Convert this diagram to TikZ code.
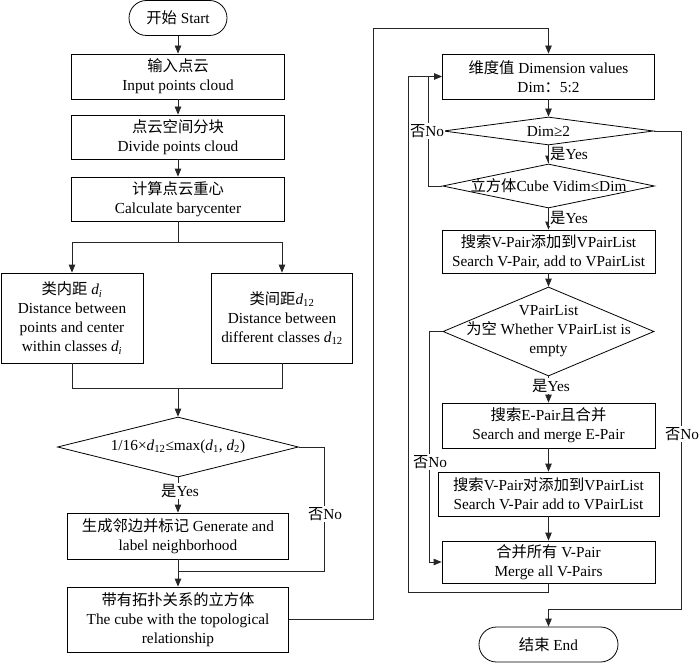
\documentclass[tikz,border=0pt]{standalone}
\usepackage{fontspec}
\setmainfont{Liberation Serif}
\newfontfamily\cjk{Noto Sans CJK SC}
\newcommand{\zh}[1]{{\cjk #1}}
\newcommand{\dv}[1]{\textit{d}\textsubscript{#1}}
\usetikzlibrary{shapes.geometric,shapes.misc,arrows.meta}
\tikzset{
  every node/.style={font=\fontsize{15.3}{19}\selectfont},
  ln/.style={line width=0.8pt, draw=black!85},
  box/.style={draw, line width=0.8pt, align=center, inner sep=1pt},
  term/.style={draw, line width=0.8pt, rounded rectangle, inner sep=1pt, align=center},
  dia/.style={draw, line width=0.8pt, diamond, inner sep=0pt},
  arr/.style={ln, -{Triangle[length=8pt,width=6.5pt]}},
  lab/.style={fill=white, inner sep=1pt},
  dtext/.style={align=center, inner sep=0pt}
}
\begin{document}
\begin{tikzpicture}[x=1pt,y=-1pt]
\useasboundingbox (0,0) rectangle (700,663);
% left column
\node[term, minimum width=100pt, minimum height=35pt] (start) at (178,18) {\zh{开始} Start};
\node[box, minimum width=213pt, minimum height=45pt] (in) at (178,76.5) {\zh{输入点云}\\Input points cloud};
\node[box, minimum width=213pt, minimum height=44pt] (div) at (178,137) {\zh{点云空间分块}\\Divide points cloud};
\node[box, minimum width=213pt, minimum height=44pt] (bary) at (178,199) {\zh{计算点云重心}\\Calculate barycenter};
\node[box, minimum width=142pt, minimum height=90pt] (intra) at (72,318) {\zh{类内距} \dv{\textit{i}}\\Distance between\\points and center\\within classes \dv{\textit{i}}};
\node[box, minimum width=141pt, minimum height=90pt] (inter) at (282,318) {\zh{类间距}\dv{12}\\Distance between\\different classes \dv{12}};
\node[dia, minimum width=241pt, minimum height=60pt] (d1) at (178,447) {};
\node[dtext] (d1t) at (178,447) {1/16×\dv{12}≤max(\dv{1}, \dv{2})};
\node[box, minimum width=221pt, minimum height=46pt] (gen) at (178,536) {\zh{生成邻边并标记} Generate and\\label neighborhood};
\node[box, minimum width=221pt, minimum height=65pt] (cube) at (178,619.5) {\zh{带有拓扑关系的立方体}\\The cube with the topological\\relationship};

\coordinate (j1) at (178,242);
\coordinate (j2) at (178,388);
\coordinate (n1) at (324,571);
\coordinate (j3) at (178,571);
\coordinate (c1) at (373,619.5);
\coordinate (c2) at (373,28);

\draw[arr] (start.south) -- (in.north);
\draw[arr] (in.south) -- (div.north);
\draw[arr] (div.south) -- (bary.north);
\draw[ln] (bary.south) -- (j1);
\draw[arr] (j1) -| (intra.north);
\draw[arr] (j1) -| (inter.north);
\draw[ln] (intra.south) |- (j2);
\draw[ln] (inter.south) |- (j2);
\draw[arr] (j2) -- (d1.north);
\draw[arr] (d1.south) -- (gen.north);
\node[lab] (y1) at (180,491) {\zh{是}Yes};
\draw[ln] (d1.east) -| (n1) -- (j3);
\node[lab] (no1) at (325,514) {\zh{否}No};
\draw[arr] (gen.south) -- (cube.north);

% right column
\node[box, minimum width=212pt, minimum height=45pt] (dim) at (548.5,76.5) {\zh{维度值} Dimension values\\Dim\zh{：}5:2};
\node[dia, minimum width=210pt, minimum height=28pt] (d2) at (548.5,131) {};
\node[dtext] (d2t) at (548.5,131) {Dim≥2};
\node[dia, minimum width=212pt, minimum height=44pt] (d3) at (548.5,186) {};
\node[dtext] (d3t) at (548.5,186) {\zh{立方体}Cube Vidim≤Dim};
\node[box, minimum width=213pt, minimum height=43pt] (s1) at (548.5,251.5) {\zh{搜索}V-Pair\zh{添加到}VPairList\\Search V-Pair, add to VPairList};
\node[dia, minimum width=211pt, minimum height=89pt] (d4) at (548.5,331.5) {};
\node[dtext] (d4t) at (548.5,331.5) {VPairList\\\zh{为空} Whether VPairList is\\empty};
\node[box, minimum width=213pt, minimum height=45pt] (ep) at (548.5,425.5) {\zh{搜索}E-Pair\zh{且合并}\\Search and merge E-Pair};
\node[box, minimum width=221pt, minimum height=44pt] (s2) at (548.5,494) {\zh{搜索}V-Pair\zh{对添加到}VPairList\\Search V-Pair add to VPairList};
\node[box, minimum width=213pt, minimum height=42pt] (mg) at (548.5,562) {\zh{合并所有} V-Pair\\Merge all V-Pairs};
\node[term, minimum width=141pt, minimum height=35pt] (end) at (548.5,644.5) {\zh{结束} End};

\draw[arr] (cube.east) -- (c1) -- (c2) -| (dim.north);

\coordinate (k1) at (429,331.5);
\coordinate (k2) at (428,186);
\coordinate (k3) at (428,76.5);
\coordinate (k4) at (428,131);
\coordinate (m1) at (548.5,592);
\coordinate (m2) at (408,592);
\coordinate (m3) at (408,76.5);
\coordinate (r1) at (681,131);
\coordinate (r2) at (681,609);
\coordinate (r3) at (548.5,609);

\draw[arr] (dim.south) -- (d2.north);
\draw[arr] (d2.south) -- (d3.north);
\node[lab, anchor=west] (y2) at (549,154) {\zh{是}Yes};
\draw[arr] (d3.south) -- (s1.north);
\node[lab, anchor=west] (y3) at (549,218) {\zh{是}Yes};
\draw[arr] (s1.south) -- (d4.north);
\draw[arr] (d4.south) -- (ep.north);
\node[lab] (y4) at (551,386) {\zh{是}Yes};
\draw[arr] (ep.south) -- (s2.north);
\draw[arr] (s2.south) -- (mg.north);
\draw[arr] (d4.west) -- (k1) |- (mg.west);
\node[lab] (no4) at (430,462) {\zh{否}No};
\draw[arr] (mg.south) -- (m1) -- (m2) -- (m3) -- (dim.west);
\draw[ln] (d3.west) -- (k2) -- (k3);
\draw[ln] (d2.west) -- (k4);
\node[lab] (no2) at (427,131) {\zh{否}No};
\draw[arr] (d2.east) -- (r1) -- (r2) -- (r3) -- (end.north);
\node[lab] (no3) at (682,434) {\zh{否}No};
\end{tikzpicture}
\end{document}
